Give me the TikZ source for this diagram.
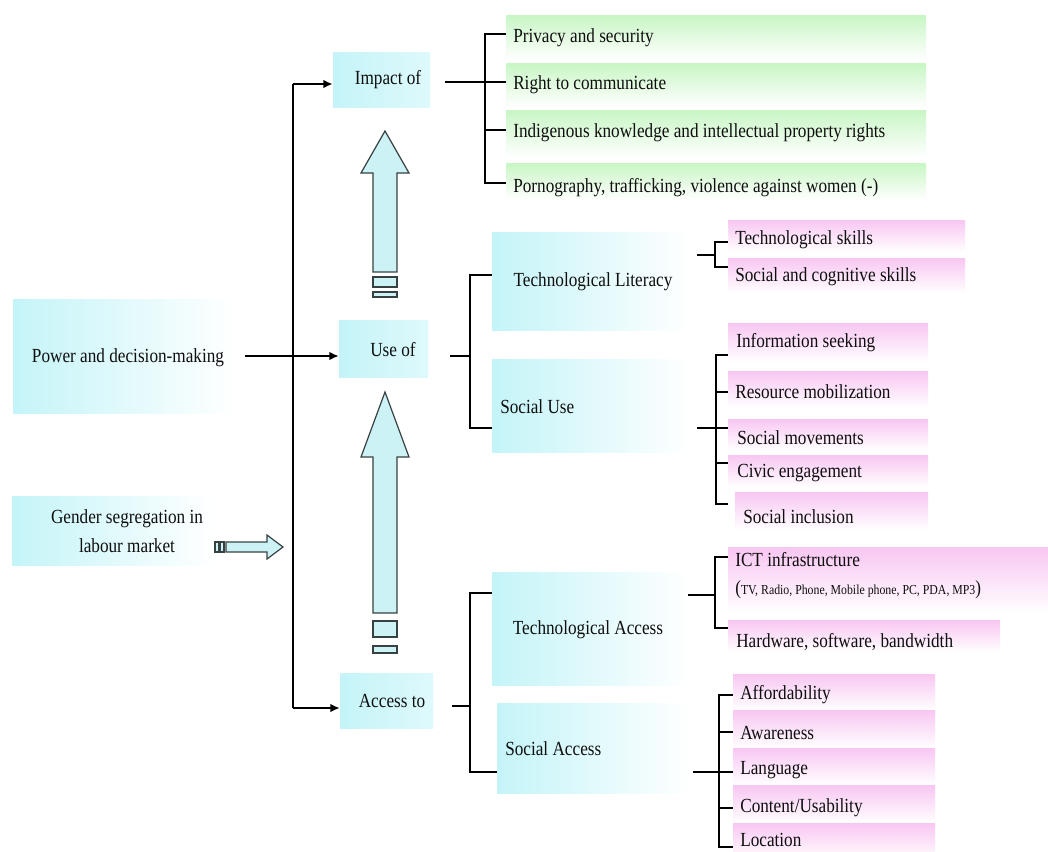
\documentclass[tikz,border=0pt]{standalone}
\usepackage{fontspec}
\setmainfont{Liberation Serif}[FakeStretch=0.86]
\usetikzlibrary{arrows.meta,calc}
\definecolor{cyC}{RGB}{196,244,248}
\definecolor{grC}{RGB}{200,246,196}
\definecolor{pkC}{RGB}{248,198,242}
\definecolor{arF}{RGB}{205,242,246}
\definecolor{arD}{RGB}{55,65,65}
\definecolor{txt}{RGB}{15,15,15}
\newcommand\bx[6]{\node[#2, draw=none, inner sep=0pt, minimum width={(#5-#3)*0.75pt}, minimum height={(#6-#4)*0.75pt}] (#1) at ({(#3+#5)/2},{(#4+#6)/2}) {};}
\begin{document}
\begin{tikzpicture}[x=0.75pt,y=-0.75pt,
  cybox/.style={left color=cyC, right color=white},
  cyboxs/.style={left color=cyC, right color=cyC!55!white},
  grbox/.style={top color=grC, bottom color=white},
  pkbox/.style={top color=pkC, bottom color=white},
  lbl/.style={inner sep=0pt, text=txt, font=\rmfamily\fontsize{15}{21.75}\selectfont},
  small/.style={inner sep=0pt, text=txt, font=\rmfamily\fontsize{10.3}{12}\selectfont},
  ln/.style={line width=1.7pt, black},
  arr/.style={ln, -{Latex[length=7pt,width=6.5pt]}},
  blk/.style={fill=arF, draw=arD, line width=0.9pt}]
\fill[white] (0,0) rectangle (1048,851);
\useasboundingbox (0,0) rectangle (1048,851);
% --- boxes
\bx{impB}{cyboxs}{333}{52}{430}{107}
\bx{useB}{cyboxs}{339}{320}{428}{377}
\bx{accB}{cyboxs}{340}{673}{433}{728}
\bx{powB}{cybox}{13}{299}{235}{413}
\bx{genB}{cybox}{12}{496}{215}{565}
\bx{tlB}{cybox}{492}{232}{690}{330}
\bx{suB}{cybox}{492}{359}{690}{452}
\bx{taB}{cybox}{492}{572}{690}{685}
\bx{saB}{cybox}{497}{703}{690}{793}
\bx{g1}{grbox}{506}{15}{926}{60}
\bx{g2}{grbox}{506}{63}{926}{107}
\bx{g3}{grbox}{506}{110}{926}{157}
\bx{g4}{grbox}{506}{163}{926}{200}
\bx{p1}{pkbox}{728}{220}{965}{252}
\bx{p2}{pkbox}{728}{258}{965}{293}
\bx{p3}{pkbox}{728}{323}{928}{362}
\bx{p4}{pkbox}{728}{371}{928}{408}
\bx{p5}{pkbox}{728}{419}{928}{450}
\bx{p6}{pkbox}{728}{455}{928}{487}
\bx{p7}{pkbox}{735}{492}{928}{530}
\bx{p8}{pkbox}{728}{547}{1048}{613}
\bx{p9}{pkbox}{728}{620}{1000}{652}
\bx{q1}{pkbox}{733}{674}{935}{710}
\bx{q2}{pkbox}{733}{710}{935}{748}
\bx{q3}{pkbox}{733}{748}{935}{785}
\bx{q4}{pkbox}{733}{785}{935}{823}
\bx{q5}{pkbox}{733}{823}{935}{860}
% --- block arrows
\draw[blk] (385,131) -- (409,173) -- (397,173) -- (397,272) -- (373,272) -- (373,173) -- (361,173) -- cycle;
\draw[blk] (373,277) rectangle (397,287);
\draw[blk] (373,292) rectangle (397,297);
\draw[blk] (385,392) -- (409,457) -- (397,457) -- (397,613) -- (373,613) -- (373,457) -- (361,457) -- cycle;
\draw[blk] (373,621) rectangle (397,637);
\draw[blk] (373,646) rectangle (397,653);
\draw[blk] (283,547) -- (267,535) -- (267,542) -- (226,542) -- (226,552) -- (267,552) -- (267,559) -- cycle;
\draw[blk] (215,542) rectangle (219,552);
\draw[blk] (220,542) rectangle (224,552);
% --- texts
\node[lbl] (impT) at (388,80) {Impact of};
\node[lbl] (useT) at (393,350) {Use of};
\node[lbl] (accT) at (392,701) {Access to};
\node[lbl] (powT) at (128,358) {Power and decision-making};
\node[lbl, align=center] (genT) at (127,531) {Gender segregation in\\labour market};
\node[lbl] (tlT) at (593,282) {Technological Literacy};
\node[lbl, anchor=west] (suT) at (500,407) {Social Use};
\node[lbl] (taT) at (588,630) {Technological Access};
\node[lbl, anchor=west] (saT) at (505,749) {Social Access};
\node[lbl, anchor=west] (g1T) at (513,38) {Privacy and security};
\node[lbl, anchor=west] (g2T) at (513,85) {Right to communicate};
\node[lbl, anchor=west] (g3T) at (513,133) {Indigenous knowledge and intellectual property rights};
\node[lbl, anchor=west] (g4T) at (513,188) {Pornography, trafficking, violence against women (-)};
\node[lbl, anchor=west] (p1T) at (735,240) {Technological skills};
\node[lbl, anchor=west] (p2T) at (735,277) {Social and cognitive skills};
\node[lbl, anchor=west] (p3T) at (736,343) {Information seeking};
\node[lbl, anchor=west] (p4T) at (735,392) {Resource mobilization};
\node[lbl, anchor=west] (p5T) at (737,438) {Social movements};
\node[lbl, anchor=west] (p6T) at (737,473) {Civic engagement};
\node[lbl, anchor=west] (p7T) at (743,517) {Social inclusion};
\node[lbl, anchor=west] (p8T) at (735,560) {ICT infrastructure};
\node[small, anchor=west] (p8S) at (735,590) {{\fontsize{15}{18}\selectfont(}TV, Radio, Phone, Mobile phone, PC, PDA, MP3{\fontsize{15}{18}\selectfont)}};
\node[lbl, anchor=west] (p9T) at (736,642) {Hardware, software, bandwidth};
\node[lbl, anchor=west] (q1T) at (740,695) {Affordability};
\node[lbl, anchor=west] (q2T) at (740,733) {Awareness};
\node[lbl, anchor=west] (q3T) at (740,770) {Language};
\node[lbl, anchor=west] (q4T) at (740,808) {Content/Usability};
\node[lbl, anchor=west] (q5T) at (740,840) {Location};
% --- spine and arrows
\coordinate (sT) at (293,84);
\coordinate (sB) at (293,708);
\draw[ln] (sT) -- (sB);
\draw[arr] (sT) -- (sT -| impB.west);
\draw[arr] (sB) -- (sB -| accB.west);
\coordinate (pA) at (245,356);
\draw[arr] (pA) -- (pA -| useB.west);
% --- impact bracket
\coordinate (iA) at (445,82);
\coordinate (iT) at (485,34);
\coordinate (iC) at (485,130);
\coordinate (iB) at (485,183);
\draw[ln] (iA) -- (iA -| g2.west);
\draw[ln] (iT -| g1.west) -- (iT) -- (iB) -- (iB -| g4.west);
\draw[ln] (iC) -- (iC -| g3.west);
% --- use bracket
\coordinate (uA) at (450,356);
\coordinate (uM) at (470,356);
\coordinate (uT) at (470,275);
\coordinate (uB) at (470,428);
\draw[ln] (uA) -- (uM);
\draw[ln] (uT -| tlB.west) -- (uT) -- (uB) -- (uB -| suB.west);
% --- technological literacy bracket
\coordinate (lA) at (697,255);
\coordinate (lT) at (715,242);
\coordinate (lB) at (715,267);
\draw[ln] (lA) -- (lA -| lT);
\draw[ln] (lT -| p1.west) -- (lT) -- (lB) -- (lB -| p2.west);
% --- social use bracket
\coordinate (sA) at (697,428);
\coordinate (sUT) at (716,355);
\coordinate (sU2) at (716,392);
\coordinate (sU4) at (716,463);
\coordinate (sUB) at (716,504);
\draw[ln] (sA) -- (sA -| p5.west);
\draw[ln] (sUT -| p3.west) -- (sUT) -- (sUB) -- (sUB -| p3.west);
\draw[ln] (sU2) -- (sU2 -| p4.west);
\draw[ln] (sU4) -- (sU4 -| p6.west);
% --- access bracket
\coordinate (aA) at (452,706);
\coordinate (aM) at (470,706);
\coordinate (aT) at (470,593);
\coordinate (aB) at (470,772);
\draw[ln] (aA) -- (aM);
\draw[ln] (aT -| taB.west) -- (aT) -- (aB) -- (aB -| saB.west);
% --- technological access bracket
\coordinate (cA) at (688,595);
\coordinate (cT) at (715,557);
\coordinate (cB) at (715,628);
\draw[ln] (cA) -- (cA -| cT);
\draw[ln] (cT -| p8.west) -- (cT) -- (cB) -- (cB -| p9.west);
% --- social access bracket
\coordinate (dA) at (693,772);
\coordinate (dT) at (719,695);
\coordinate (d2) at (719,732);
\coordinate (d4) at (719,808);
\coordinate (dB) at (719,847);
\draw[ln] (dA) -- (dA -| q3.west);
\draw[ln] (dT -| q1.west) -- (dT) -- (dB) -- (dB -| q5.west);
\draw[ln] (d2) -- (d2 -| q2.west);
\draw[ln] (d4) -- (d4 -| q4.west);
\end{tikzpicture}
\end{document}
